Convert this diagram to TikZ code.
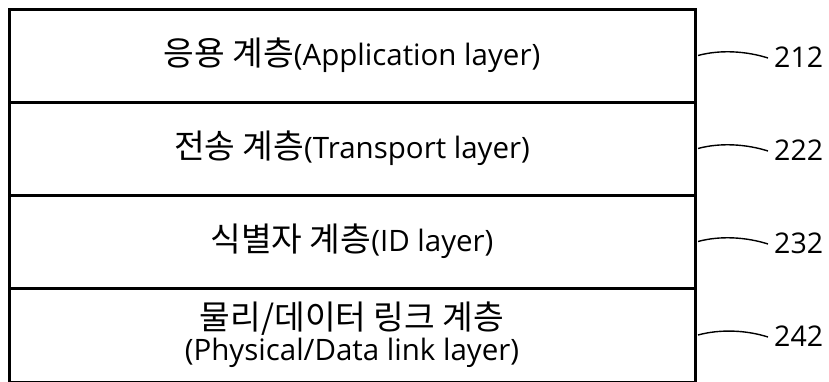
\documentclass[tikz,border=0pt]{standalone}
\usepackage{fontspec}
\setmainfont{Open Sans}
\newfontfamily\kr[Scale=1.13]{Noto Sans CJK KR}
\begin{document}
\begin{tikzpicture}[x=1pt,y=-1pt,
  layerbox/.style={draw=black,line width=3pt,minimum width=686pt,minimum height=93pt,inner sep=0pt,align=center,font=\fontsize{29.5}{31}\selectfont},
  leader/.style={line width=1.4pt},
  reflabel/.style={anchor=west,inner sep=0pt,font=\fontsize{28.5}{31}\selectfont}]
\useasboundingbox (0,0) rectangle (829,381);
\node[layerbox] (app) at (352,55.5) {{\kr 응용 계층}(Application layer)};
\node[layerbox] (trans) at (352,148.5) {{\kr 전송 계층}(Transport layer)};
\node[layerbox] (id) at (352,241.5) {{\kr 식별자 계층}(ID layer)};
\node[layerbox,minimum height=94pt] (phy) at (352,335) {{\kr 물리/데이터 링크 계층}\\(Physical/Data link layer)};
\node[reflabel] (l212) at (774,57) {212};
\node[reflabel] (l222) at (774,150) {222};
\node[reflabel] (l232) at (774,243) {232};
\node[reflabel] (l242) at (774,336) {242};
\foreach \b/\l in {app/l212,trans/l222,id/l232,phy/l242}{
  \draw[leader] ([xshift=1.5pt]\b.east) .. controls +(22,-6) and +(-22,-7) .. ([xshift=-6pt,yshift=-1pt]\l.west);
}
\end{tikzpicture}
\end{document}
